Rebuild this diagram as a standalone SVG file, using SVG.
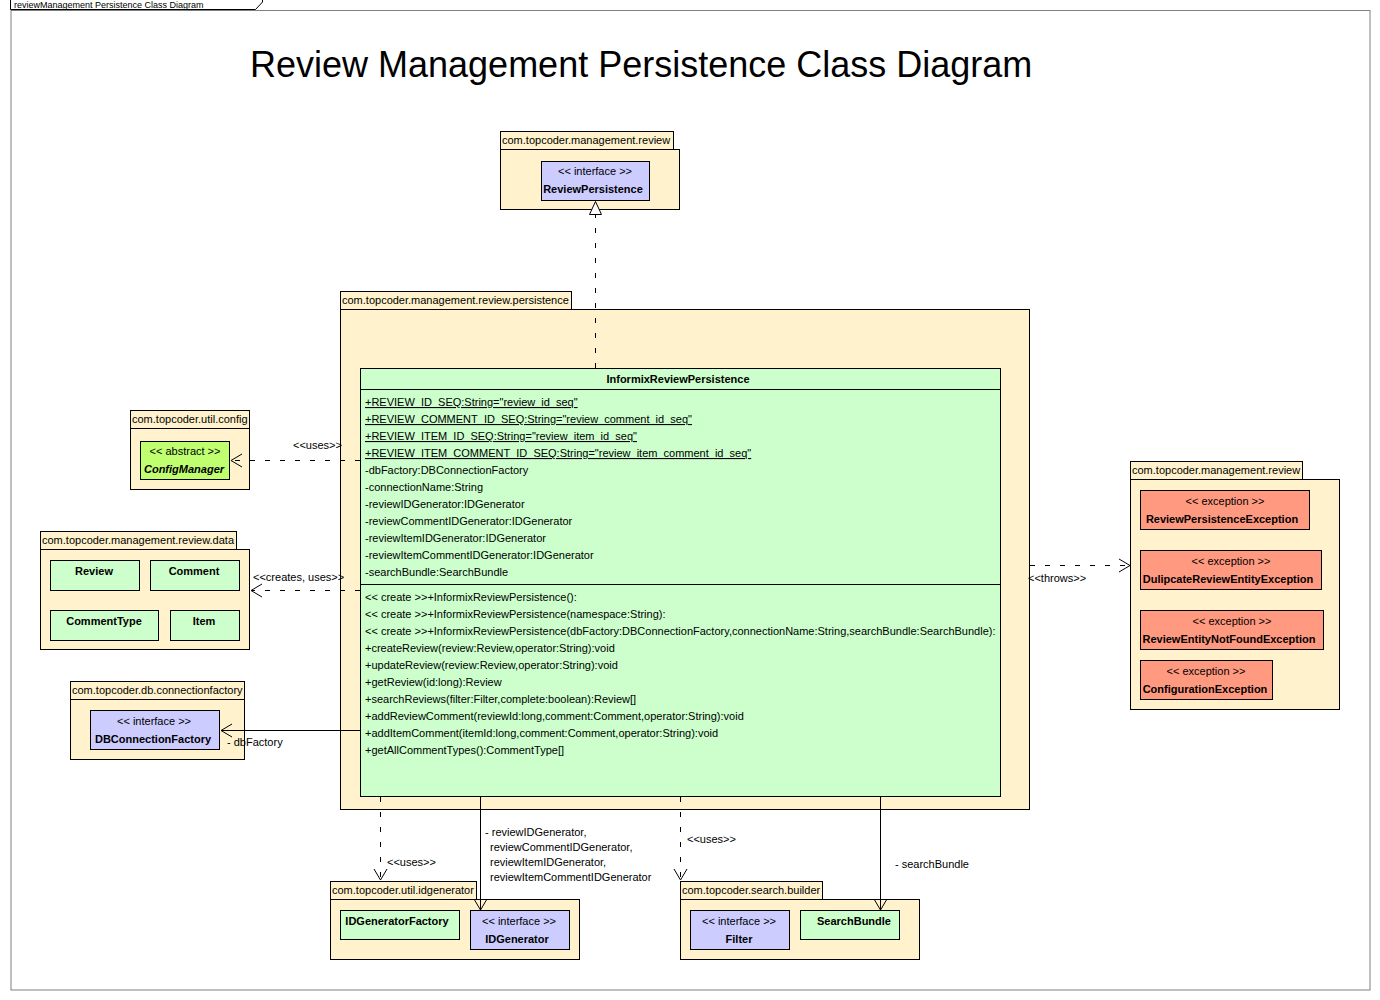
<svg xmlns="http://www.w3.org/2000/svg" width="1380" height="1000" viewBox="0 0 1380 1000">
<style>
text{font-family:"Liberation Sans",Arial,sans-serif;font-size:11px;fill:#000}
.b{font-weight:bold}
.c{text-anchor:middle}
.u{text-decoration:underline}
.pkg{fill:#fff2cc;stroke:#000;stroke-width:1}
.cls{fill:#ccffcc;stroke:#000;stroke-width:1}
.ifc{fill:#ccccff;stroke:#000;stroke-width:1}
.abs{fill:#bfff70;stroke:#000;stroke-width:1}
.exc{fill:#ff9980;stroke:#000;stroke-width:1}
.ln{fill:none;stroke:#000;stroke-width:1}
.dash{fill:none;stroke:#000;stroke-width:1;stroke-dasharray:5,10}
.title{font-size:36px}
</style>
<rect x="0" y="0" width="1380" height="1000" fill="#fff"/>
<g id="frame">
<rect x="11" y="10.5" width="1359" height="979.5" fill="none" stroke="#808080" stroke-width="1"/>
<path d="M10.5,-1 L262.5,-1 L262.5,2 L255.5,9.5 L10.5,9.5 Z" fill="#fff" stroke="#000"/>
<text x="14" y="8" style="font-size:9px">reviewManagement Persistence Class Diagram</text>
</g>
<text class="title" x="250" y="77">Review Management Persistence Class Diagram</text>

<g id="pkg-review-top">
<rect class="pkg" x="500.5" y="131.5" width="173" height="18"/>
<rect class="pkg" x="500.5" y="149.5" width="179" height="60"/>
<text x="502" y="144">com.topcoder.management.review</text>
</g>
<g id="ReviewPersistence">
<rect class="ifc" x="541.5" y="161.5" width="108" height="39"/>
<text class="c" x="595" y="175">&lt;&lt; interface &gt;&gt;</text>
<text class="c b" x="593" y="193">ReviewPersistence</text>
</g>

<g id="pkg-persistence">
<rect class="pkg" x="340.5" y="291.5" width="231" height="18"/>
<rect class="pkg" x="340.5" y="309.5" width="689" height="500"/>
<text x="342" y="304">com.topcoder.management.review.persistence</text>
</g>
<g id="InformixReviewPersistence">
<rect class="cls" x="360.5" y="368.5" width="640" height="428"/>
<line class="ln" x1="360.5" y1="389.5" x2="1000.5" y2="389.5"/>
<line class="ln" x1="360.5" y1="584.5" x2="1000.5" y2="584.5"/>
<text class="c b" x="678" y="383">InformixReviewPersistence</text>
<text class="u" x="365" y="406">+REVIEW_ID_SEQ:String="review_id_seq"</text>
<text class="u" x="365" y="423">+REVIEW_COMMENT_ID_SEQ:String="review_comment_id_seq"</text>
<text class="u" x="365" y="440">+REVIEW_ITEM_ID_SEQ:String="review_item_id_seq"</text>
<text class="u" x="365" y="457">+REVIEW_ITEM_COMMENT_ID_SEQ:String="review_item_comment_id_seq"</text>
<text x="365" y="474">-dbFactory:DBConnectionFactory</text>
<text x="365" y="491">-connectionName:String</text>
<text x="365" y="508">-reviewIDGenerator:IDGenerator</text>
<text x="365" y="525">-reviewCommentIDGenerator:IDGenerator</text>
<text x="365" y="542">-reviewItemIDGenerator:IDGenerator</text>
<text x="365" y="559">-reviewItemCommentIDGenerator:IDGenerator</text>
<text x="365" y="576">-searchBundle:SearchBundle</text>
<text x="365" y="601">&lt;&lt; create &gt;&gt;+InformixReviewPersistence():</text>
<text x="365" y="618">&lt;&lt; create &gt;&gt;+InformixReviewPersistence(namespace:String):</text>
<text x="365" y="635">&lt;&lt; create &gt;&gt;+InformixReviewPersistence(dbFactory:DBConnectionFactory,connectionName:String,searchBundle:SearchBundle):</text>
<text x="365" y="652">+createReview(review:Review,operator:String):void</text>
<text x="365" y="669">+updateReview(review:Review,operator:String):void</text>
<text x="365" y="686">+getReview(id:long):Review</text>
<text x="365" y="703">+searchReviews(filter:Filter,complete:boolean):Review[]</text>
<text x="365" y="720">+addReviewComment(reviewId:long,comment:Comment,operator:String):void</text>
<text x="365" y="737">+addItemComment(itemId:long,comment:Comment,operator:String):void</text>
<text x="365" y="754">+getAllCommentTypes():CommentType[]</text>
</g>

<g id="pkg-config">
<rect class="pkg" x="130.5" y="410.5" width="119" height="18"/>
<rect class="pkg" x="130.5" y="428.5" width="119" height="61"/>
<text x="132" y="423">com.topcoder.util.config</text>
</g>
<g id="ConfigManager">
<rect class="abs" x="140.5" y="441.5" width="89" height="38"/>
<text class="c" x="185" y="455">&lt;&lt; abstract &gt;&gt;</text>
<text class="c b" x="184" y="473" font-style="italic">ConfigManager</text>
</g>

<g id="pkg-data">
<rect class="pkg" x="40.5" y="531.5" width="196" height="18"/>
<rect class="pkg" x="40.5" y="549.5" width="209" height="100"/>
<text x="42" y="544">com.topcoder.management.review.data</text>
</g>
<g id="Review"><rect class="cls" x="50.5" y="560.5" width="89" height="30"/><text class="c b" x="94" y="575">Review</text></g>
<g id="Comment"><rect class="cls" x="150.5" y="560.5" width="89" height="30"/><text class="c b" x="194" y="575">Comment</text></g>
<g id="CommentType"><rect class="cls" x="50.5" y="610.5" width="108" height="30"/><text class="c b" x="104" y="625">CommentType</text></g>
<g id="Item"><rect class="cls" x="170.5" y="610.5" width="69" height="30"/><text class="c b" x="204" y="625">Item</text></g>

<g id="pkg-connectionfactory">
<rect class="pkg" x="70.5" y="681.5" width="174" height="18"/>
<rect class="pkg" x="70.5" y="699.5" width="174" height="60"/>
<text x="72" y="694">com.topcoder.db.connectionfactory</text>
</g>
<g id="DBConnectionFactory">
<rect class="ifc" x="90.5" y="710.5" width="129" height="39"/>
<text class="c" x="154" y="725">&lt;&lt; interface &gt;&gt;</text>
<text class="c b" x="153" y="743">DBConnectionFactory</text>
</g>

<g id="pkg-review-exc">
<rect class="pkg" x="1130.5" y="461.5" width="172" height="18"/>
<rect class="pkg" x="1130.5" y="479.5" width="209" height="230"/>
<text x="1132" y="474">com.topcoder.management.review</text>
</g>
<g id="ReviewPersistenceException">
<rect class="exc" x="1140.5" y="490.5" width="169" height="39"/>
<text class="c" x="1225" y="505">&lt;&lt; exception &gt;&gt;</text>
<text class="c b" x="1222" y="523">ReviewPersistenceException</text>
</g>
<g id="DulipcateReviewEntityException">
<rect class="exc" x="1140.5" y="550.5" width="181" height="39"/>
<text class="c" x="1231" y="565">&lt;&lt; exception &gt;&gt;</text>
<text class="c b" x="1228" y="583">DulipcateReviewEntityException</text>
</g>
<g id="ReviewEntityNotFoundException">
<rect class="exc" x="1140.5" y="610.5" width="183" height="39"/>
<text class="c" x="1232" y="625">&lt;&lt; exception &gt;&gt;</text>
<text class="c b" x="1229" y="643">ReviewEntityNotFoundException</text>
</g>
<g id="ConfigurationException">
<rect class="exc" x="1140.5" y="660.5" width="132" height="39"/>
<text class="c" x="1206" y="675">&lt;&lt; exception &gt;&gt;</text>
<text class="c b" x="1205" y="693">ConfigurationException</text>
</g>

<g id="pkg-idgenerator">
<rect class="pkg" x="330.5" y="881.5" width="146" height="18"/>
<rect class="pkg" x="330.5" y="899.5" width="249" height="60"/>
<text x="332" y="894">com.topcoder.util.idgenerator</text>
</g>
<g id="IDGeneratorFactory"><rect class="cls" x="340.5" y="910.5" width="119" height="29"/><text class="c b" x="397" y="925">IDGeneratorFactory</text></g>
<g id="IDGenerator">
<rect class="ifc" x="470.5" y="910.5" width="99" height="39"/>
<text class="c" x="519" y="925">&lt;&lt; interface &gt;&gt;</text>
<text class="c b" x="517" y="943">IDGenerator</text>
</g>

<g id="pkg-searchbuilder">
<rect class="pkg" x="680.5" y="881.5" width="142" height="18"/>
<rect class="pkg" x="680.5" y="899.5" width="239" height="60"/>
<text x="682" y="894">com.topcoder.search.builder</text>
</g>
<g id="Filter">
<rect class="ifc" x="690.5" y="910.5" width="99" height="39"/>
<text class="c" x="739" y="925">&lt;&lt; interface &gt;&gt;</text>
<text class="c b" x="739" y="943">Filter</text>
</g>
<g id="SearchBundle"><rect class="cls" x="800.5" y="910.5" width="99" height="29"/><text class="c b" x="854" y="925">SearchBundle</text></g>

<g id="connectors">
<line class="dash" x1="595.5" y1="368" x2="595.5" y2="214"/>
<path d="M595.5,201.5 L589.5,214.5 L601.5,214.5 Z" fill="#fff" stroke="#000"/>

<line class="dash" x1="360" y1="460.5" x2="232" y2="460.5"/>
<path class="ln" d="M242,454 L231,460.5 L242,467"/>
<text x="293" y="449">&lt;&lt;uses&gt;&gt;</text>

<line class="dash" x1="360" y1="590.5" x2="252" y2="590.5"/>
<path class="ln" d="M262,584 L251,590.5 L262,597"/>
<text x="253" y="581">&lt;&lt;creates, uses&gt;&gt;</text>

<line class="ln" x1="360" y1="730.5" x2="221" y2="730.5"/>
<path class="ln" d="M232,724 L221,730.5 L232,737"/>
<text x="227" y="746">- dbFactory</text>

<line class="dash" x1="1030" y1="565.5" x2="1129" y2="565.5"/>
<path class="ln" d="M1119,559 L1130,565.5 L1119,572"/>
<text x="1028" y="582">&lt;&lt;throws&gt;&gt;</text>

<line class="dash" x1="380.5" y1="797" x2="380.5" y2="879"/>
<path class="ln" d="M374,869 L380.5,880 L387,869"/>
<text x="387" y="866">&lt;&lt;uses&gt;&gt;</text>

<line class="ln" x1="480.5" y1="797" x2="480.5" y2="910"/>
<path class="ln" d="M474,899 L480.5,910 L487,899"/>
<text x="485" y="836">- reviewIDGenerator,</text>
<text x="490" y="851">reviewCommentIDGenerator,</text>
<text x="490" y="866">reviewItemIDGenerator,</text>
<text x="490" y="881">reviewItemCommentIDGenerator</text>

<line class="dash" x1="680.5" y1="797" x2="680.5" y2="879"/>
<path class="ln" d="M674,869 L680.5,880 L687,869"/>
<text x="687" y="843">&lt;&lt;uses&gt;&gt;</text>

<line class="ln" x1="880.5" y1="797" x2="880.5" y2="910"/>
<path class="ln" d="M874,899 L880.5,910 L887,899"/>
<text x="895" y="868">- searchBundle</text>
</g>
</svg>
